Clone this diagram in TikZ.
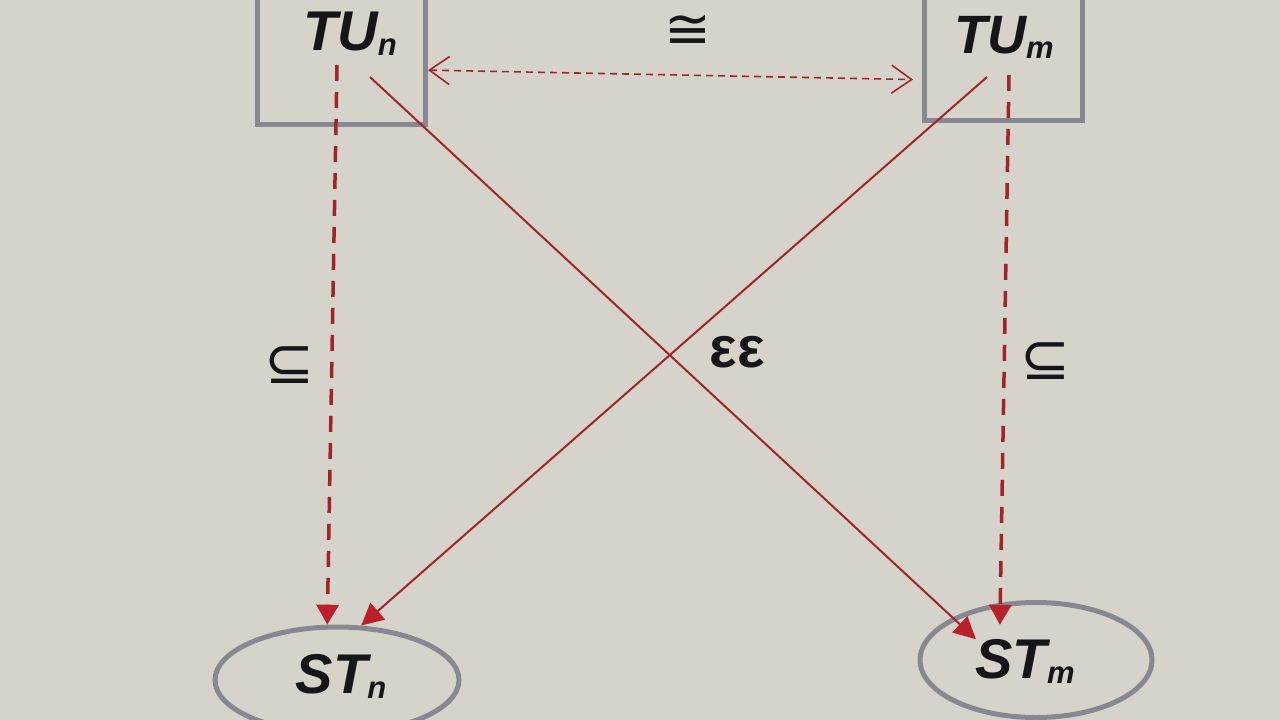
\documentclass[tikz,border=0pt]{standalone}
\usepackage{fontspec}
\setmainfont{Liberation Sans}
\newfontfamily\symfont{DejaVu Sans}
\usetikzlibrary{arrows.meta,shapes.geometric}
\definecolor{paper}{RGB}{214,211,203}
\definecolor{lred}{RGB}{158,38,42}
\definecolor{hred}{RGB}{185,32,42}
\definecolor{frame}{RGB}{136,136,146}
\definecolor{ink}{RGB}{22,22,24}
\newcommand{\subsc}[1]{\raisebox{-5pt}{\fontsize{31}{33}\selectfont #1}}
\begin{document}
\begin{tikzpicture}[x=1pt,y=-1pt,
  boxnode/.style={draw=frame,line width=5pt,rectangle,inner sep=0pt},
  ellnode/.style={draw=frame,line width=5pt,ellipse,inner sep=0pt},
  lab/.style={font=\fontsize{56}{60}\selectfont\bfseries\itshape,text=ink,inner sep=0pt,anchor=base},
  sym/.style={font=\symfont\fontsize{60}{64}\selectfont,text=ink,inner sep=0pt},
  thickdash/.style={draw=lred,line width=3.5pt,dash pattern=on 16pt off 11pt,-{Triangle[length=20pt,width=22pt,color=hred]}},
  solidarr/.style={draw=lred,line width=2pt,-{Triangle[length=22pt,width=22pt,color=hred]}},
  thindash/.style={draw=lred,line width=1.6pt,dash pattern=on 7pt off 5pt,{Straight Barb[length=20pt,width=28pt,line width=1.6pt]}-{Straight Barb[length=20pt,width=28pt,line width=1.6pt]}}
]
\fill[paper] (0,0) rectangle (1280,720);
\useasboundingbox (0,0) rectangle (1280,720);

% boxes and ellipses
\node[boxnode,minimum width=168pt,minimum height=165pt] (tun) at (341.5,42) {};
\node[boxnode,minimum width=158pt,minimum height=161pt] (tum) at (1003.5,40) {};
\node[ellnode,minimum width=244pt,minimum height=106pt] (stn) at (337,680) {};
\node[ellnode,minimum width=232pt,minimum height=115pt] (stm) at (1036,660) {};

% labels
\node[lab] (tunl) at (350,50) {TU\subsc{n}};
\node[lab,font=\fontsize{54}{58}\selectfont\bfseries\itshape] (tuml) at (1004,53) {TU\subsc{m}};
\node[lab] (stnl) at (341,693) {ST\subsc{n}};
\node[lab] (stml) at (1025,678) {ST\subsc{m}};

% symbols
\node[sym,font=\symfont\fontsize{56}{60}\selectfont] (cong) at (688,32) {≅};
\node[sym] (subl) at (290,365) {⊆};
\node[sym] (subr) at (1046,361) {⊆};
\node[font=\fontsize{58}{62}\selectfont\bfseries,text=ink,inner sep=0pt] (eps) at (737,352) {εε};

% start points inside boxes
\coordinate (a1) at (337,65);
\coordinate (a2) at (1009,75);
\coordinate (a3) at (370,77);
\coordinate (a4) at (987,77);

% connectors
\draw[thickdash] (a1) -- (stn.100);
\draw[thickdash,shorten >=-22pt] (a2) -- (stm.122);
\draw[solidarr,shorten >=-32pt] (a3) -- (stm.153);
\draw[solidarr] (a4) -- (stn.66);
\draw[thindash,shorten >=9pt] (tun.-18) -- (tum.206);
\end{tikzpicture}
\end{document}
